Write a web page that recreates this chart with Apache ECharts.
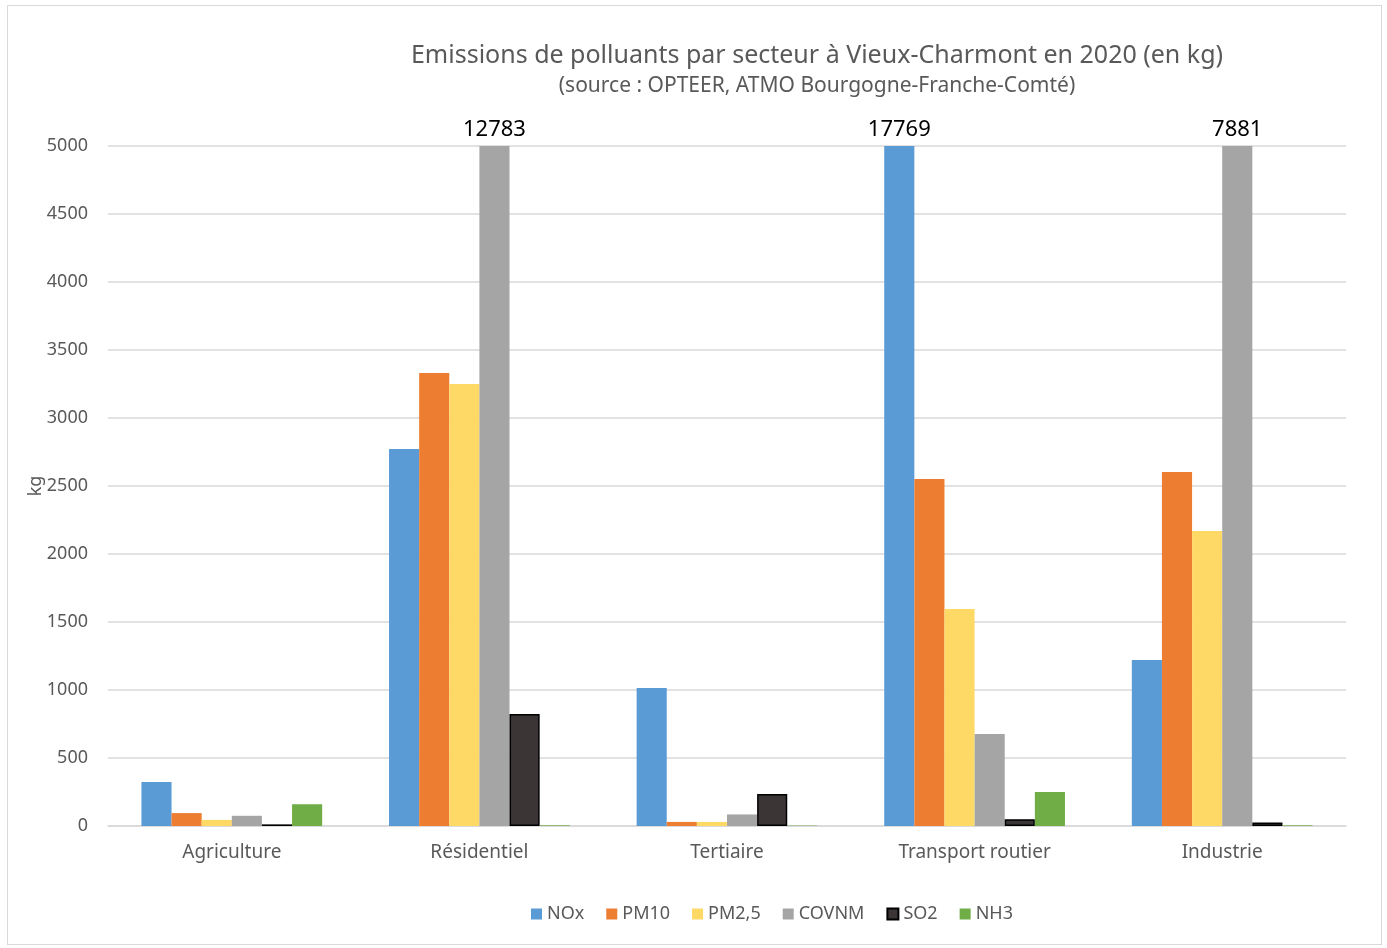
<!DOCTYPE html>
<html>
<head>
<meta charset="utf-8">
<title>Emissions de polluants</title>
<script src="https://cdn.jsdelivr.net/npm/echarts@6/dist/echarts.min.js"></script>
<style>
  html, body { margin: 0; padding: 0; background: #fff; }
  #frame {
    position: absolute; left: 7px; top: 5px; width: 1375px; height: 940px;
    border: 1px solid #d9d9d9; box-sizing: border-box;
  }
  #chart { position: absolute; left: 0; top: 0; width: 1387px; height: 948px; }
</style>
</head>
<body>
<div id="frame"></div>
<div id="chart"></div>
<script>
// données
const secteurs = ['Agriculture', 'Résidentiel', 'Tertiaire', 'Transport routier', 'Industrie']
const polluants = ['NOx', 'PM10', 'PM2,5', 'COVNM', 'SO2', 'NH3']
const nox = [323, 2772, 1015, 17769, 1220]
const pm10 = [95, 3331, 30, 2551, 2603]
const pm25 = [45, 3250, 30, 1596, 2169]
const covnm = [75, 12783, 85, 676, 7881]
const so2 = [12, 823, 235, 50, 25]
const nh3 = [160, 5, 3, 250, 5]
const yTicks = [0, 500, 1000, 1500, 2000, 2500, 3000, 3500, 4000, 4500, 5000]

const yMax = 5000
const couleurs = ['#5B9BD5', '#ED7D31', '#FFD966', '#A5A5A5', '#3B3536', '#70AD47']
const seriesData = [nox, pm10, pm25, covnm, so2, nh3]
const font = '"Noto Sans", "Open Sans", sans-serif'

const chart = echarts.init(document.getElementById('chart'))

// barres tronquées à 5000, valeur réelle affichée au-dessus
const toBars = (arr) => arr.map(v => ({
  value: Math.min(v, yMax),
  label: {
    show: v > yMax,
    formatter: String(v)
  }
}))

chart.setOption({
  animation: false,
  title: {
    text: 'Emissions de polluants par secteur à Vieux-Charmont en 2020 (en kg)',
    subtext: '(source : OPTEER, ATMO Bourgogne-Franche-Comté)',
    left: 812,
    textAlign: 'center',
    top: 38,
    itemGap: 8,
    textStyle: { fontFamily: font, fontSize: 25, fontWeight: 'normal', color: '#595959' },
    subtextStyle: { fontFamily: font, fontSize: 21, color: '#595959' }
  },
  legend: {
    bottom: 20,
    left: 526,
    icon: 'rect',
    itemWidth: 11,
    itemHeight: 11,
    itemGap: 22,
    textStyle: { fontFamily: font, fontSize: 18, color: '#595959', padding: [0, 0, 0, 0] },
    data: polluants
  },
  grid: { left: 108, right: 41, top: 146, bottom: 122 },
  xAxis: {
    type: 'category',
    data: secteurs,
    axisTick: { show: false },
    axisLine: { lineStyle: { color: '#d9d9d9', width: 1.5 } },
    axisLabel: { fontFamily: font, fontSize: 19, color: '#595959', margin: 17 }
  },
  yAxis: {
    type: 'value',
    name: 'kg',
    nameLocation: 'middle',
    nameRotate: 90,
    nameGap: 63,
    nameMoveOverlap: false,
    nameTextStyle: { fontFamily: font, fontSize: 18, color: '#595959' },
    min: yTicks[0],
    max: yTicks[yTicks.length - 1],
    interval: 500,
    axisLine: { show: false },
    axisTick: { show: false },
    axisLabel: {
      fontFamily: font, fontSize: 18, color: '#595959', margin: 20,
      formatter: (v) => String(v)
    },
    splitLine: { lineStyle: { color: '#d9d9d9', width: 1.5 } }
  },
  series: polluants.map((name, i) => ({
    name,
    type: 'bar',
    data: toBars(seriesData[i]),
    barGap: '0%',
    barCategoryGap: '27%',
    itemStyle: {
      color: couleurs[i],
      borderColor: i === 4 ? '#000' : couleurs[i],
      borderWidth: i === 4 ? 1.5 : 0
    },
    label: {
      position: 'top',
      distance: 5,
      fontFamily: font,
      fontSize: 22,
      color: '#000'
    }
  }))
})
</script>
</body>
</html>
